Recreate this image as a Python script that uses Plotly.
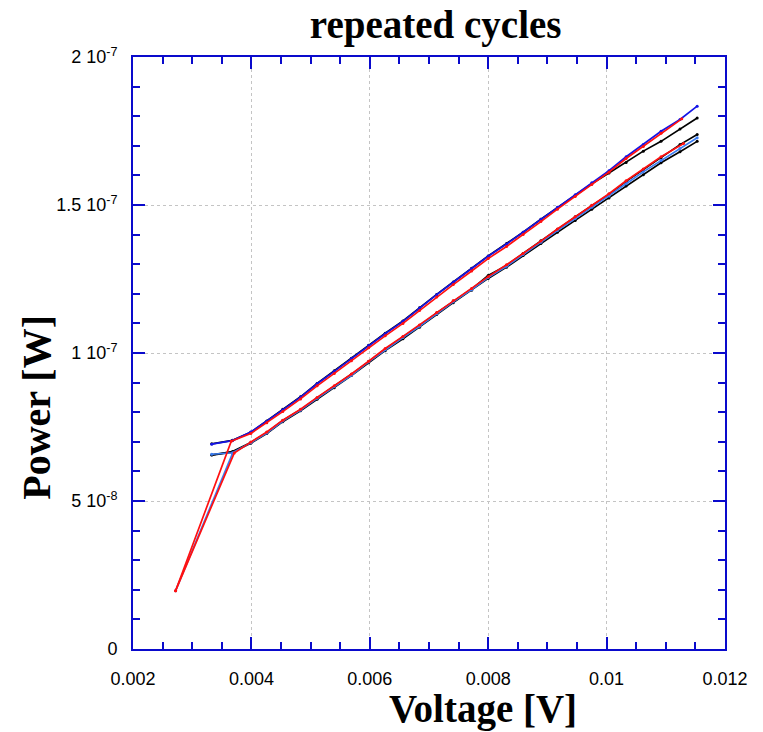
import plotly.graph_objects as go

# Voltage sample points shared by the sweeps [V]
V_GRID = [0.00333, 0.00368, 0.00399, 0.00426, 0.00453, 0.00483, 0.00511, 0.00540,
          0.00569, 0.00598, 0.00626, 0.00656, 0.00684, 0.00713, 0.00741, 0.00772,
          0.00800, 0.00831, 0.00859, 0.00889, 0.00917, 0.00947, 0.00975, 0.01004,
          0.01033, 0.01062, 0.01092, 0.01124, 0.01153]

# Upper branch, power in units of 1e-8 W
P_BLUE_UP = [6.92, 7.04, 7.33, 7.69, 8.08, 8.51, 8.96, 9.38, 9.81, 10.25, 10.65, 11.07,
             11.52, 11.97, 12.39, 12.85, 13.27, 13.68, 14.08, 14.52, 14.92, 15.35, 15.75,
             16.16, 16.63, 17.04, 17.49, 17.89, 18.34]
P_BLACK_UP = [6.93, 7.05, 7.32, 7.70, 8.10, 8.52, 8.97, 9.40, 9.82, 10.26, 10.67, 11.08,
              11.53, 11.98, 12.40, 12.86, 13.28, 13.70, 14.08, 14.52, 14.91, 15.33, 15.72,
              16.08, 16.44, 16.82, 17.15, 17.57, 17.94]

# Red cycle, rising from the lowest point onto the upper branch
V_RED_UP = [0.00272, 0.00366, 0.00399, 0.00426, 0.00453, 0.00483, 0.00511, 0.00540,
            0.00569, 0.00598, 0.00626, 0.00656, 0.00684, 0.00713, 0.00741, 0.00772,
            0.00800, 0.00831, 0.00859, 0.00889, 0.00917, 0.00947, 0.00975, 0.01004,
            0.01033, 0.01062, 0.01092, 0.01127]
P_RED_UP = [1.97, 7.02, 7.28, 7.64, 8.02, 8.45, 8.89, 9.31, 9.74, 10.18, 10.58, 11.00,
            11.44, 11.89, 12.31, 12.77, 13.19, 13.60, 14.00, 14.44, 14.86, 15.29, 15.69,
            16.11, 16.57, 16.98, 17.42, 17.91]

# Lower branch
P_BLACK_LO_A = [6.56, 6.67, 6.98, 7.31, 7.72, 8.08, 8.48, 8.87, 9.28, 9.71, 10.13, 10.54,
                10.92, 11.35, 11.74, 12.16, 12.62, 12.96, 13.36, 13.79, 14.18, 14.60, 14.98,
                15.36, 15.80, 16.20, 16.59, 17.04, 17.38]
P_BLACK_LO_B = [6.55, 6.65, 6.95, 7.28, 7.68, 8.05, 8.44, 8.83, 9.24, 9.67, 10.08, 10.48,
                10.87, 11.30, 11.70, 12.12, 12.52, 12.90, 13.29, 13.70, 14.08, 14.48, 14.86,
                15.24, 15.64, 16.02, 16.43, 16.80, 17.15]
P_LBLUE_LO = [6.58, 6.63, 6.97, 7.30, 7.70, 8.07, 8.47, 8.86, 9.25, 9.70, 10.11, 10.52,
              10.90, 11.33, 11.73, 12.14, 12.55, 12.93, 13.33, 13.74, 14.14, 14.54, 14.92,
              15.30, 15.72, 16.12, 16.50, 16.91, 17.27]
V_LBLUE_DROP = [0.00272, 0.00368]
P_LBLUE_DROP = [1.97, 6.60]

V_RED_LO = [0.00272, 0.00371, 0.00399, 0.00426, 0.00453, 0.00483, 0.00511, 0.00540,
            0.00569, 0.00598, 0.00626, 0.00656, 0.00684, 0.00713, 0.00741, 0.00772,
            0.00800, 0.00831, 0.00859, 0.00889, 0.00917, 0.00947, 0.00975, 0.01004,
            0.01033, 0.01062, 0.01092, 0.01130]
P_RED_LO = [1.97, 6.62, 6.99, 7.33, 7.73, 8.10, 8.50, 8.89, 9.29, 9.72, 10.15, 10.56,
            10.95, 11.37, 11.77, 12.18, 12.58, 12.98, 13.36, 13.78, 14.19, 14.60, 14.99,
            15.38, 15.82, 16.22, 16.63, 17.08]

X_TICKS = [0.002, 0.004, 0.006, 0.008, 0.010, 0.012]
X_TICK_TEXT = ["0.002", "0.004", "0.006", "0.008", "0.01", "0.012"]
Y_TICKS = [0, 5e-8, 1e-7, 1.5e-7, 2e-7]
Y_TICK_TEXT = ["0", "5 10<sup>-8</sup>", "1 10<sup>-7</sup>", "1.5 10<sup>-7</sup>",
               "2 10<sup>-7</sup>"]

BLACK = "#000000"
BLUE = "#1414e6"
LBLUE = "#3a7cf2"
RED = "#ff1010"
AXIS = "#0a0acc"


def scale(vals):
    return [v * 1e-8 for v in vals]


def sweep(x, y, color):
    return go.Scatter(x=x, y=scale(y), mode="lines+markers",
                      line=dict(color=color, width=1.7),
                      marker=dict(color=color, size=3),
                      showlegend=False, hoverinfo="x+y")


fig = go.Figure()
fig.add_trace(sweep(V_GRID, P_BLACK_LO_B, BLACK))
fig.add_trace(sweep(V_GRID, P_BLACK_LO_A, BLACK))
fig.add_trace(sweep(V_GRID, P_BLACK_UP, BLACK))
fig.add_trace(sweep(V_GRID, P_BLUE_UP, BLUE))
fig.add_trace(sweep(V_GRID, P_LBLUE_LO, LBLUE))
fig.add_trace(sweep(V_LBLUE_DROP, P_LBLUE_DROP, LBLUE))
fig.add_trace(sweep(V_RED_LO, P_RED_LO, RED))
fig.add_trace(sweep(V_RED_UP, P_RED_UP, RED))

tick_font = dict(family="Liberation Sans, Arial, sans-serif", size=18, color="black")
common = dict(showline=True, linecolor=AXIS, linewidth=2, mirror="ticks",
              ticks="inside", ticklen=12, tickwidth=2, tickcolor=AXIS,
              showgrid=True, gridcolor="#c4c4c4", gridwidth=1, griddash="dot",
              zeroline=False, tickfont=tick_font)

fig.update_xaxes(range=[0.002, 0.012], tickvals=X_TICKS, ticktext=X_TICK_TEXT,
                 minor=dict(dtick=0.0005, tick0=0.002, ticks="inside", ticklen=7,
                            tickwidth=1.5, tickcolor=AXIS, showgrid=False),
                 ticklabelstandoff=12, **common)
fig.update_yaxes(range=[0, 2e-7], tickvals=Y_TICKS, ticktext=Y_TICK_TEXT,
                 minor=dict(dtick=1e-8, tick0=0, ticks="inside", ticklen=7,
                            tickwidth=1.5, tickcolor=AXIS, showgrid=False),
                 ticklabelstandoff=10, **common)

title_font = dict(family="Liberation Serif, Times New Roman, serif", color="black")
fig.update_layout(
    width=763, height=732,
    margin=dict(l=133, r=38, t=57, b=83),
    paper_bgcolor="white", plot_bgcolor="white",
    title=dict(text="<b>repeated cycles</b>", xref="container", x=0.571,
               yref="container", y=1 - 24 / 732, xanchor="center", yanchor="middle",
               font=dict(size=39, **title_font)),
    annotations=[
        dict(text="<b>Voltage [V]</b>", xref="paper", yref="paper",
             x=(483 - 133) / 592, y=(649 - 709) / 591.5, xanchor="center",
             yanchor="middle", showarrow=False, font=dict(size=39, **title_font)),
        dict(text="<b>Power [W]</b>", xref="paper", yref="paper",
             x=(37 - 133) / 592, y=(649 - 408) / 591.5, xanchor="center",
             yanchor="middle", textangle=-90, showarrow=False,
             font=dict(size=40, **title_font)),
    ],
)

fig.write_html("out.html")
